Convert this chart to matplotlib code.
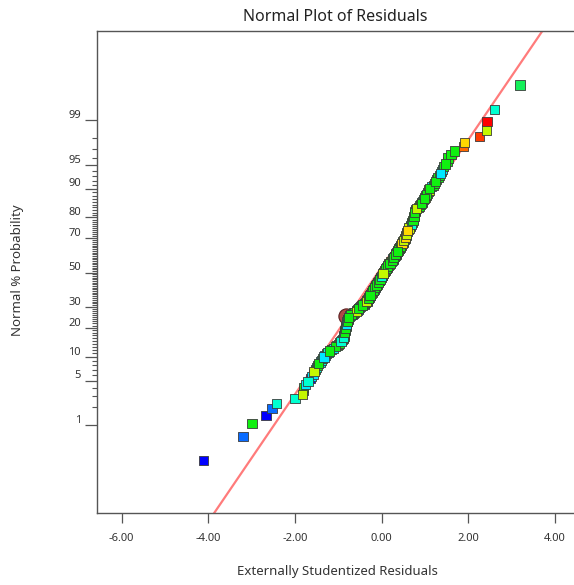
import numpy as np
import matplotlib
matplotlib.use("Agg")
import matplotlib.pyplot as plt
from matplotlib.transforms import ScaledTranslation
from statistics import NormalDist

# externally studentized residuals, sorted
residuals = [
    -4.12, -3.20, -2.99, -2.67, -2.53, -2.42, -2.00, -1.83, -1.81, -1.80,
    -1.76, -1.70, -1.65, -1.62, -1.58, -1.56, -1.53, -1.51, -1.48, -1.45,
    -1.42, -1.39, -1.36, -1.33, -1.31, -1.28, -1.24, -1.20, -1.15, -1.11,
    -1.07, -1.03, -1.00, -0.97, -0.94, -0.92, -0.90, -0.89, -0.88, -0.87,
    -0.865, -0.86, -0.855, -0.85, -0.845, -0.84, -0.835, -0.83, -0.825, -0.82,
    -0.815, -0.81, -0.805, -0.80, -0.795, -0.79, -0.78, -0.77, -0.76, -0.75,
    -0.73, -0.71, -0.68, -0.65, -0.62, -0.59, -0.57, -0.55, -0.54, -0.53,
    -0.51, -0.49, -0.47, -0.44, -0.41, -0.39, -0.37, -0.35, -0.34, -0.33,
    -0.32, -0.31, -0.30, -0.29, -0.28, -0.27, -0.26, -0.25, -0.24, -0.23,
    -0.22, -0.21, -0.20, -0.19, -0.18, -0.17, -0.16, -0.15, -0.14, -0.13,
    -0.12, -0.11, -0.10, -0.09, -0.08, -0.07, -0.06, -0.05, -0.04, -0.03,
    -0.02, -0.01, 0.00, 0.01, 0.02, 0.02, 0.03, 0.04, 0.05, 0.06,
    0.07, 0.08, 0.09, 0.10, 0.11, 0.12, 0.13, 0.14, 0.15, 0.16,
    0.17, 0.19, 0.20, 0.21, 0.22, 0.24, 0.25, 0.26, 0.27, 0.28,
    0.29, 0.30, 0.31, 0.32, 0.33, 0.34, 0.35, 0.36, 0.37, 0.38,
    0.39, 0.40, 0.41, 0.42, 0.43, 0.44, 0.45, 0.46, 0.47, 0.48,
    0.49, 0.50, 0.51, 0.52, 0.53, 0.54, 0.55, 0.555, 0.56, 0.565,
    0.57, 0.575, 0.58, 0.59, 0.60, 0.61, 0.62, 0.63, 0.645, 0.66,
    0.67, 0.68, 0.69, 0.70, 0.71, 0.72, 0.73, 0.735, 0.74, 0.745,
    0.75, 0.755, 0.76, 0.765, 0.77, 0.775, 0.78, 0.80, 0.84, 0.88,
    0.90, 0.92, 0.93, 0.94, 0.96, 0.98, 1.00, 1.02, 1.04, 1.06,
    1.075, 1.09, 1.11, 1.15, 1.19, 1.22, 1.24, 1.27, 1.30, 1.33,
    1.36, 1.38, 1.41, 1.43, 1.48, 1.51, 1.53, 1.60, 1.68, 1.89,
    1.91, 2.25, 2.42, 2.43, 2.61, 3.19,
]

# colour code of each point, same order as residuals
point_codes = (
    "BAGBATTLGG" "CTBCCLGTGG" "CTGCCGTGGC" "GGLGTGGGTG" "GCGGTGGLGG"
    "CGGTGGCGGG" "TGCGGLGGCG" "GTGGCGGLGG" "GGTGCGGGLG" "GLGGTGGCGG"
    "GGTGGLGGGC" "GGTGGGLGGY" "GGLGGTGGGG" "LGGYGGGTGG" "GLGGGGCGGL"
    "GGTGGGLGYG" "GGLGGGYGGG" "LGGGYGGLGG" "GTGGLGGGYG" "GGTGCGGLGG"
    "GGGTGGLGGG" "GLGCGGGGGG" "CGCGGGGGGO" "YPLRTS"
)
code_colors = {
    "B": "#0000ff", "A": "#0a6cff", "C": "#00e8ff", "T": "#00ffd0",
    "G": "#10f010", "S": "#14f05a", "L": "#c4f800", "Y": "#ffd800",
    "O": "#ff6a00", "P": "#ff3a00", "R": "#ff0000",
}

# flagged run (drawn as circle)
flag_x = [-0.82]
flag_z = [-0.66]

# reference line  z = slope * x + intercept
line_slope = 0.98
line_intercept = 0.04

major_pct = [1, 5, 10, 20, 30, 50, 70, 80, 90, 95, 99]
minor_pct = [p for p in range(2, 99) if p not in major_pct]
x_ticks = [-6, -4, -2, 0, 2, 4]

nd = NormalDist()


def to_z(p):
    p = np.clip(np.asarray(p, dtype=float), 1e-9, 100 - 1e-9)
    return np.vectorize(lambda v: nd.inv_cdf(v / 100.0))(p)


def to_pct(z):
    return np.vectorize(lambda v: nd.cdf(v) * 100.0)(np.asarray(z, dtype=float))


n = len(residuals)
prob = np.array([(i + 0.5) / n * 100 for i in range(n)])
res = np.array(residuals)
colors = np.array([code_colors[c] for c in point_codes])

# runs are not drawn in rank order, so overlapping squares interleave
order = np.array([(i * 89) % n for i in range(n)])
tail = [i for i in range(n) if i < 8 or i >= n - 8]
order = np.concatenate([[i for i in order if i not in tail], tail])

plt.rcParams['font.family'] = ['Noto Sans', 'DejaVu Sans']

fig = plt.figure(figsize=(5.74, 5.85), dpi=100)
ax = fig.add_axes([97 / 574, 72 / 585, 477 / 574, 482 / 585])
ax.set_yscale('function', functions=(to_z, to_pct))

# fitted line
lx = np.array([-7.0, 5.0])
ax.plot(lx, to_pct(line_slope * lx + line_intercept), color='#ff7b7b', lw=1.6, zorder=2)

ax.scatter(flag_x, to_pct(flag_z), s=120, marker='o', facecolor='#b04848',
           edgecolor='#5a2020', lw=0.8, zorder=3)
ax.scatter(res[order], prob[order], s=44, marker='s', c=colors[order],
           edgecolor='#3a3a3a', linewidth=0.6, zorder=4)

ax.set_xlim(-6.568, 4.436)
ax.set_ylim(to_pct(-3.663), to_pct(3.684))

ax.set_xticks(x_ticks)
ax.set_xticklabels([f"{v:.2f}" for v in x_ticks])
ax.set_yticks(major_pct)
ax.set_yticklabels([str(p) for p in major_pct])
ax.set_yticks(minor_pct, minor=True)
ax.yaxis.set_minor_formatter(plt.NullFormatter())
ax.xaxis.set_minor_locator(plt.NullLocator())

ax.tick_params(axis='x', direction='out', length=7.5, width=0.9, color='#555555',
               labelsize=8, labelcolor='#333333', pad=7)
ax.tick_params(axis='y', which='major', direction='out', length=8.6, width=0.9,
               color='#555555', labelsize=8, labelcolor='#333333', pad=3)
ax.tick_params(axis='y', which='minor', direction='out', length=3.6, width=0.8,
               color='#555555')

# y labels sit a little above their ticks
shift = ScaledTranslation(0, 4.5 / 72, fig.dpi_scale_trans)
for lab in ax.get_yticklabels():
    lab.set_transform(lab.get_transform() + shift)

for side in ['left', 'bottom', 'top']:
    ax.spines[side].set_color('#555555')
    ax.spines[side].set_linewidth(1.0)
ax.spines['right'].set_visible(False)

fig.text(335 / 574, 1 - 17 / 585, "Normal Plot of Residuals", ha='center', va='center',
         fontsize=11.5, color='#222222')
fig.text(337 / 574, 1 - 572 / 585, "Externally Studentized Residuals", ha='center',
         va='center', fontsize=9.5, color='#333333')
fig.text(18 / 574, 1 - 270 / 585, "Normal % Probability", ha='center', va='center',
         rotation=90, fontsize=9.5, color='#333333')

fig.savefig("out.png", dpi=100)
